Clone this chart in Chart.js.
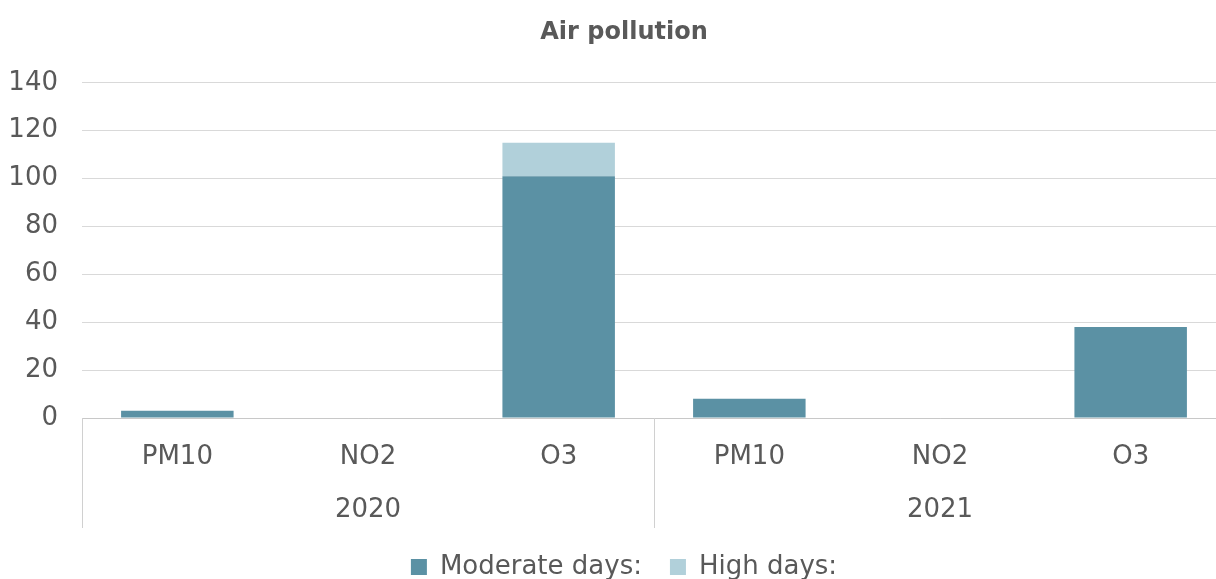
<!DOCTYPE html>
<html lang="en">

<head>
  <meta charset="UTF-8">
  <title>Air pollution</title>
  <style>
    html, body {
      margin: 0;
      padding: 0;
      overflow: hidden;
      background: #ffffff;
    }

    #wrap {
      width: 1250px;
      height: 590px;
    }
  </style>
</head>

<body>
  <div id="wrap">
    <canvas id="myChart"></canvas>
  </div>

  <script src="https://cdn.jsdelivr.net/npm/chart.js"></script>

  <script>
    // data
    const categories = ['PM10', 'NO2', 'O3', 'PM10', 'NO2', 'O3']
    const years = ['2020', '2021']
    const moderateDays = [3, 0, 101, 8, 0, 38]
    const highDays = [0, 0, 14, 0, 0, 0]

    const textColor = '#595959'
    const font = 'DejaVu Sans'

    // vertical lines between the year groups under the axis
    const groupLines = {
      id: 'groupLines',
      afterDraw(chart) {
        const x = chart.scales.x
        const ctx = chart.ctx
        const per = categories.length / years.length
        const xs = [chart.chartArea.left]
        for (let g = 1; g < years.length; g++) {
          xs.push((x.getPixelForValue(g * per - 1) + x.getPixelForValue(g * per)) / 2)
        }
        xs.push(chart.chartArea.right)
        ctx.save()
        ctx.strokeStyle = '#d0d0d0'
        ctx.lineWidth = 1
        xs.forEach(px => {
          const p = Math.round(px) + 0.5
          ctx.beginPath()
          ctx.moveTo(p, chart.chartArea.bottom)
          ctx.lineTo(p, x.bottom + 56)
          ctx.stroke()
        })
        ctx.restore()
      }
    }

    const ctx = document.getElementById('myChart');
    new Chart(ctx, {
      type: 'bar',
      data: {
        labels: categories,
        datasets: [{
          label: 'Moderate days:',
          data: moderateDays,
          backgroundColor: '#5b91a4',
          categoryPercentage: 1,
          barPercentage: 0.59
        }, {
          label: 'High days:',
          data: highDays,
          backgroundColor: '#b1d0da',
          categoryPercentage: 1,
          barPercentage: 0.59
        }]
      },
      options: {
        responsive: true,
        maintainAspectRatio: false,
        animation: false,
        layout: {
          padding: { left: 6, right: 8, top: 0, bottom: 0 }
        },
        plugins: {
          title: {
            display: true,
            text: 'Air pollution',
            color: textColor,
            font: { family: font, size: 24, weight: 'bold' },
            padding: { top: 18, bottom: 36 }
          },
          legend: {
            position: 'bottom',
            labels: {
              color: textColor,
              font: { family: font, size: 26 },
              boxWidth: 16,
              boxHeight: 16,
              padding: 28
            }
          },
          tooltip: { enabled: false }
        },
        scales: {
          x: {
            stacked: true,
            grid: { display: false, drawTicks: false },
            border: { display: true, color: '#c8c8c8' },
            ticks: {
              color: textColor,
              font: { family: font, size: 26 },
              padding: 24,
              maxRotation: 0,
              autoSkip: false
            },
            afterFit(scale) { scale.height = 54 }
          },
          x2: {
            type: 'category',
            labels: years,
            position: 'bottom',
            offset: true,
            grid: { display: false, drawTicks: false },
            border: { display: false },
            ticks: {
              color: textColor,
              font: { family: font, size: 26 },
              padding: 23,
              maxRotation: 0
            },
            afterFit(scale) { scale.height = 54 }
          },
          y: {
            stacked: true,
            min: 0,
            max: 140,
            grid: { color: '#d9d9d9', drawTicks: false },
            border: { display: false },
            ticks: {
              stepSize: 20,
              color: textColor,
              font: { family: font, size: 26 },
              padding: 24
            },
            afterFit(scale) { scale.width = 76 }
          },
          // empty right-hand box, only to keep title and legend centred like the original
          yRight: {
            type: 'linear',
            position: 'right',
            grid: { display: false, drawTicks: false },
            border: { display: false },
            ticks: { display: false },
            afterFit(scale) { scale.width = 16 }
          }
        }
      },
      plugins: [groupLines]
    });
  </script>
</body>

</html>
